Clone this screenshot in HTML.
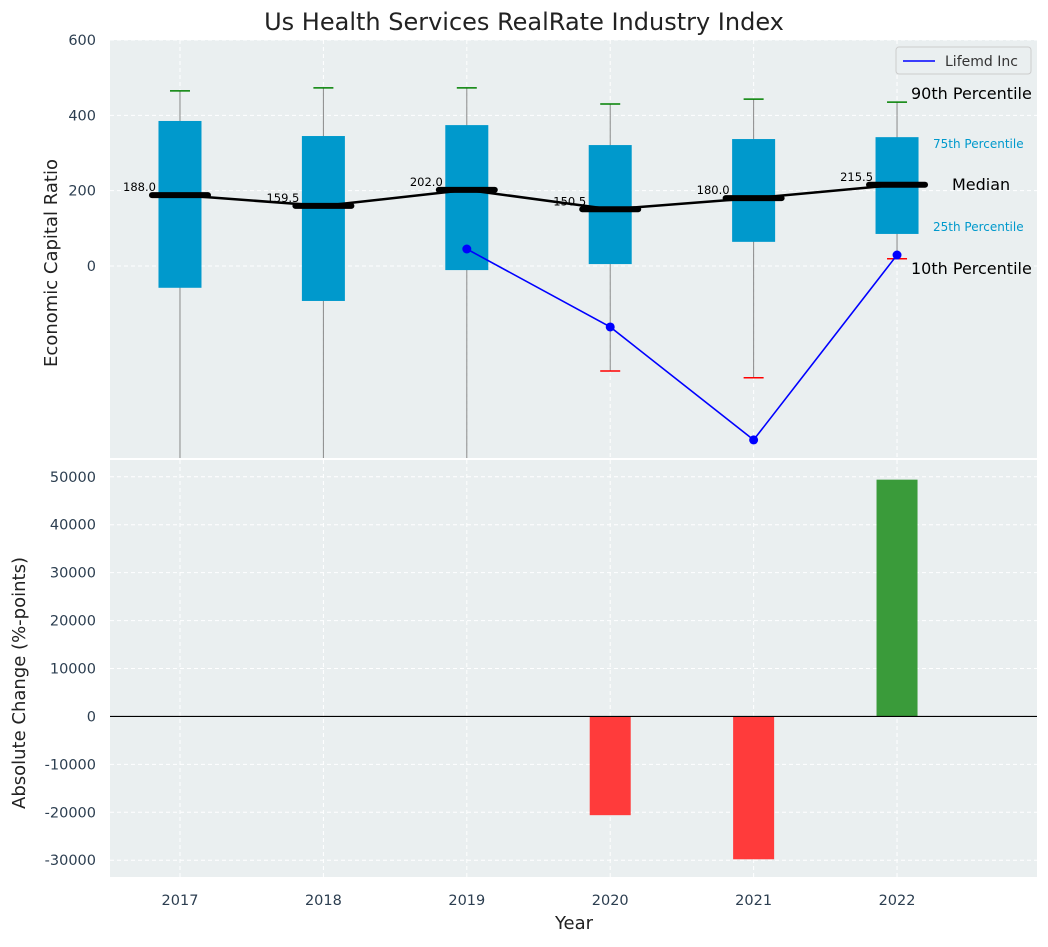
<!DOCTYPE html>
<html><head><meta charset="utf-8"><style>
body{margin:0;background:#fff;font-family:"Liberation Sans","DejaVu Sans",sans-serif}
svg text{font-family:"DejaVu Sans","Liberation Sans",sans-serif}
</style></head><body>
<svg id="c" width="1048" height="942" xmlns="http://www.w3.org/2000/svg"></svg>
<script>
const years=["2017","2018","2019","2020","2021","2022"];
const p90=[465,473,473,430,443,435];
const p75=[385,345,374,321,337,342];
const med=[188,159.5,202,150.5,180,215.5];
const p25=[-58,-93,-11,5,64,85];
const p10=[-900,-900,-900,-279,-297,19];
const lifemdYears=[2,3,4,5];
const lifemd=[45,-162,-462,29];
const changes=[null,null,null,-20600,-29800,49400];
const topTicks=[0,200,400,600];
const botTicks=[-30000,-20000,-10000,0,10000,20000,30000,40000,50000];

const S=document.getElementById('c'),NS='http://www.w3.org/2000/svg';
function el(t,a,txt,name,p){const e=document.createElementNS(NS,t);for(const k in a)e.setAttribute(k,a[k]);if(txt!=null)e.textContent=txt;


(p||S).appendChild(e);return e;}
const L=110,R=1037;
const x=i=>L+(i+0.488)/(6.464)*(R-L);
const T0=40,T1=458,tMin=-510,tMax=600;
const yt=v=>T1-(v-tMin)/(tMax-tMin)*(T1-T0);
const B0=460,B1=877,bMin=-33500,bMax=53500;
const yb=v=>B1-(v-bMin)/(bMax-bMin)*(B1-B0);
el('text',{x:524,y:30,'text-anchor':'middle','font-size':24,fill:'#222'},'Us Health Services RealRate Industry Index','title');
el('rect',{x:L,y:T0,width:R-L,height:T1-T0,fill:'#eaeff0'},null,'top-plot-bg');
el('rect',{x:L,y:B0,width:R-L,height:B1-B0,fill:'#eaeff0'},null,'bottom-plot-bg');
const gt=el('g',{},null,'grid');
topTicks.forEach(v=>{el('line',{x1:L,x2:R,y1:yt(v),y2:yt(v),stroke:'#fff','stroke-dasharray':'4,3'},null,'grid-line',gt);
el('text',{x:96,y:yt(v)+5,'text-anchor':'end','font-size':14.5,fill:'#2c3e50'},v,'y-tick-label');});
years.forEach((y,i)=>{el('line',{x1:x(i),x2:x(i),y1:T0,y2:T1,stroke:'#fff','stroke-dasharray':'4,3'},null,'grid-line',gt);
el('line',{x1:x(i),x2:x(i),y1:B0,y2:B1,stroke:'#fff','stroke-dasharray':'4,3'},null,'grid-line',gt);});
el('text',{x:57,y:263,'text-anchor':'middle','font-size':18,fill:'#222',transform:'rotate(-90 57 263)'},'Economic Capital Ratio','y-axis-title-top');
const d=el('defs',{},null,'defs');el('rect',{x:L,y:T0,width:R-L,height:T1-T0},null,'clip',el('clipPath',{id:'tc'},null,'clip-path',d));
const cl=el('g',{'clip-path':'url(#tc)'},null,'boxes');
years.forEach((y,i)=>{
 el('line',{x1:x(i),x2:x(i),y1:yt(p90[i]),y2:yt(Math.max(p10[i],tMin)),stroke:'#888','stroke-width':1},null,'whisker-'+y,cl);
 el('rect',{x:x(i)-21.5,y:yt(p75[i]),width:43,height:yt(p25[i])-yt(p75[i]),fill:'#0099cc'},null,'box-'+y,cl);
 el('line',{x1:x(i)-10,x2:x(i)+10,y1:yt(p90[i]),y2:yt(p90[i]),stroke:'green','stroke-width':1.5},null,'p90-cap-'+y,cl);
 if(p10[i]>tMin)el('line',{x1:x(i)-10,x2:x(i)+10,y1:yt(p10[i]),y2:yt(p10[i]),stroke:'red','stroke-width':1.5},null,'p10-cap-'+y,cl);
});
el('polyline',{points:med.map((v,i)=>x(i)+','+yt(v)).join(' '),fill:'none',stroke:'#000','stroke-width':2.5},null,'median-line',cl);
years.forEach((y,i)=>{
 el('line',{x1:x(i)-28,x2:x(i)+28,y1:yt(med[i]),y2:yt(med[i]),stroke:'#000','stroke-width':6,'stroke-linecap':'round'},null,'median-bar-'+y,cl);
 el('text',{x:x(i)-24,y:yt(med[i])-4,'text-anchor':'end','font-size':11.5,fill:'#000'},med[i].toFixed(1),'median-label-'+y);
});
el('polyline',{points:lifemd.map((v,k)=>x(lifemdYears[k])+','+yt(v)).join(' '),fill:'none',stroke:'blue','stroke-width':1.6},null,'lifemd-line',cl);
lifemd.forEach((v,k)=>el('circle',{cx:x(lifemdYears[k]),cy:yt(v),r:4.5,fill:'blue'},null,'lifemd-point',cl));
el('text',{x:911,y:99,'font-size':16,fill:'#000'},'90th Percentile','label-p90');
el('text',{x:933,y:148,'font-size':12,fill:'#0099cc'},'75th Percentile','label-p75');
el('text',{x:952,y:190,'font-size':16,fill:'#000'},'Median','label-median');
el('text',{x:933,y:231,'font-size':12,fill:'#0099cc'},'25th Percentile','label-p25');
el('text',{x:911,y:274,'font-size':16,fill:'#000'},'10th Percentile','label-p10');
const lg=el('g',{},null,'legend');
el('rect',{x:896,y:47,width:135,height:27,fill:'#eaeff0',stroke:'#ccc',rx:3},null,'legend-box',lg);
el('line',{x1:903,x2:935,y1:61,y2:61,stroke:'blue','stroke-width':1.6},null,'legend-swatch',lg);
el('text',{x:945,y:66,'font-size':14,fill:'#333'},'Lifemd Inc','legend-label',lg);
botTicks.forEach(v=>{el('line',{x1:L,x2:R,y1:yb(v),y2:yb(v),stroke:'#fff','stroke-dasharray':'4,3'},null,'grid-line');
el('text',{x:96,y:yb(v)+5,'text-anchor':'end','font-size':14.5,fill:'#2c3e50'},v,'y-tick-label');});
changes.forEach((v,i)=>{if(v==null)return;
 el('rect',{x:x(i)-20.5,y:Math.min(yb(v),yb(0)),width:41,height:Math.abs(yb(v)-yb(0)),fill:v<0?'#ff3b3b':'#3a9b3a'},null,'change-bar-'+years[i]);});
el('line',{x1:L,x2:R,y1:yb(0),y2:yb(0),stroke:'#000','stroke-width':1.2},null,'zero-line');
years.forEach((y,i)=>el('text',{x:x(i),y:905,'text-anchor':'middle','font-size':14.5,fill:'#2c3e50'},y,'x-tick-label'));
el('text',{x:574,y:929,'text-anchor':'middle','font-size':18,fill:'#222'},'Year','x-axis-title');
el('text',{x:25,y:683,'text-anchor':'middle','font-size':18,fill:'#222',transform:'rotate(-90 25 683)'},'Absolute Change (%-points)','y-axis-title-bottom');
</script></body></html>
